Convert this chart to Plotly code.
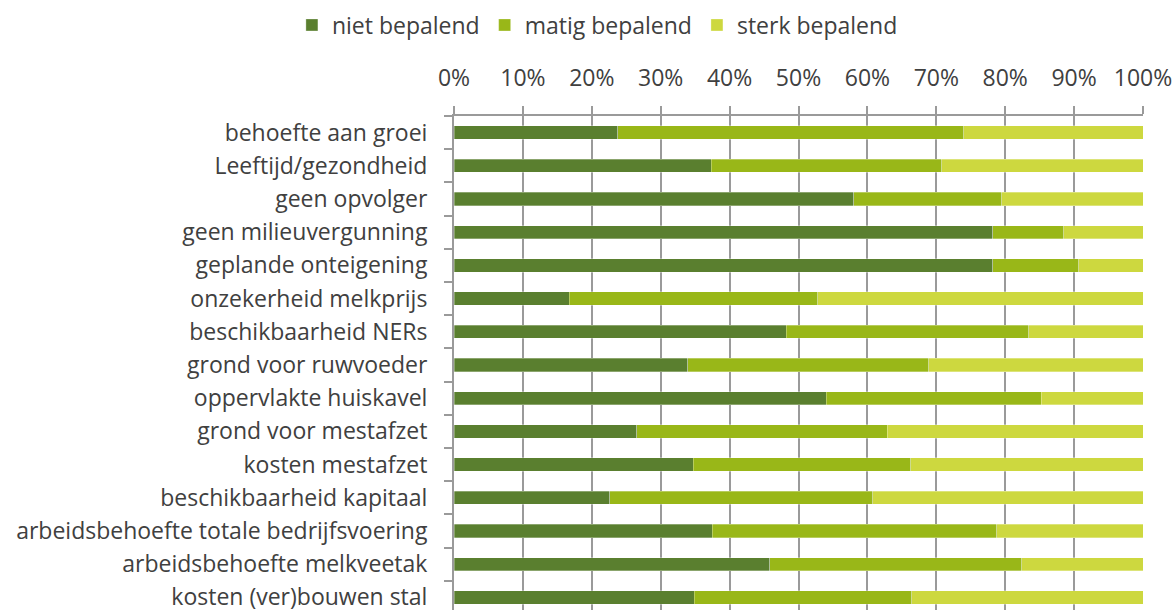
import plotly.graph_objects as go

categories = [
    "behoefte aan groei",
    "Leeftijd/gezondheid",
    "geen opvolger",
    "geen milieuvergunning",
    "geplande onteigening",
    "onzekerheid melkprijs",
    "beschikbaarheid NERs",
    "grond voor ruwvoeder",
    "oppervlakte huiskavel",
    "grond voor mestafzet",
    "kosten mestafzet",
    "beschikbaarheid kapitaal",
    "arbeidsbehoefte totale bedrijfsvoering",
    "arbeidsbehoefte melkveetak",
    "kosten (ver)bouwen stal",
]
niet_bepalend = [23.8, 37.3, 58.0, 78.2, 78.2, 16.7, 48.2, 33.9, 54.0, 26.5, 34.7, 22.6, 37.5, 45.8, 34.9]
matig_bepalend = [50.2, 33.5, 21.5, 10.3, 12.5, 36.1, 35.2, 35.0, 31.2, 36.4, 31.6, 38.2, 41.3, 36.6, 31.5]
sterk_bepalend = [26.0, 29.2, 20.5, 11.5, 9.3, 47.2, 16.6, 31.1, 14.8, 37.1, 33.7, 39.2, 21.2, 17.6, 33.6]
series_names = ["niet bepalend", "matig bepalend", "sterk bepalend"]
colors = ["#5A7F2F", "#99B718", "#CDD83F"]

FONT = "Open Sans"
FS = 23
TXT = "#404040"
GRID = "#9A9A9A"

fig = go.Figure()
for name, vals, col in zip(series_names, [niet_bepalend, matig_bepalend, sterk_bepalend], colors):
    fig.add_trace(go.Bar(
        y=categories, x=vals, name=name, orientation="h",
        marker=dict(color=col, line=dict(color="rgba(255,255,255,0.6)", width=0.5)),
    ))

fig.update_layout(
    width=1176, height=610,
    barmode="stack", bargap=0.6,
    plot_bgcolor="white", paper_bgcolor="white",
    margin=dict(l=454, r=33, t=116, b=0, autoexpand=False),
    font=dict(family=FONT, size=FS, color=TXT),
    legend=dict(
        orientation="h", xref="container", yref="container",
        x=0.508, xanchor="center", y=1 - 25 / 610, yanchor="middle",
        font=dict(family=FONT, size=FS, color=TXT), itemwidth=30,
        traceorder="normal",
    ),
    xaxis=dict(
        side="top", range=[0, 100], dtick=10, ticksuffix="%",
        showgrid=True, gridcolor=GRID, gridwidth=1.5,
        showline=True, linecolor=GRID, linewidth=2,
        ticks="outside", ticklen=8, tickcolor=GRID, tickwidth=1.5,
        ticklabelstandoff=11,
        zeroline=False, tickfont=dict(family=FONT, size=FS, color=TXT),
        fixedrange=True,
    ),
    yaxis=dict(
        type="category", categoryorder="array", categoryarray=categories,
        range=[-0.5 + (610 - 116) / 33.2, -0.5],
        showline=True, linecolor=GRID, linewidth=2,
        ticks="outside", ticklen=8, tickcolor=GRID, tickwidth=1.5,
        tickson="boundaries", showgrid=False,
        ticklabelstandoff=20,
        tickfont=dict(family=FONT, size=FS, color=TXT),
        fixedrange=True,
    ),
)

fig.write_html(
    "out.html",
    config={"displayModeBar": False},
    post_script="document.body.style.margin='0px';document.body.style.overflow='hidden';",
)
